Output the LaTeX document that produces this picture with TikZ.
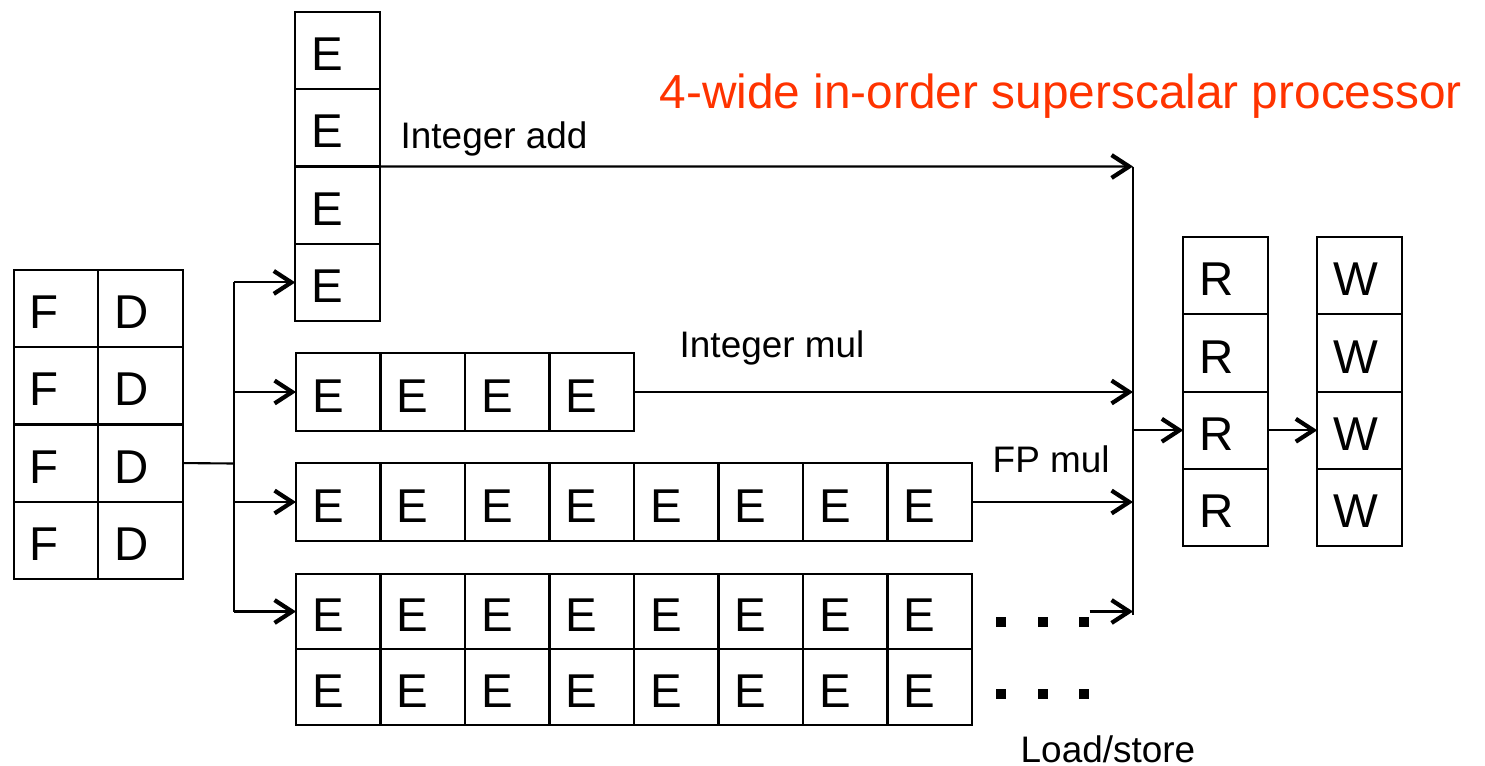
\documentclass[tikz,border=0pt]{standalone}
\usepackage{fontspec}
\setmainfont{Liberation Sans}
\usetikzlibrary{arrows.meta,positioning}
\definecolor{titlered}{RGB}{255,51,0}
\tikzset{
  cell/.style={draw, line width=0.6pt, minimum width=0.845cm, minimum height=0.773cm,
    text width=0.525cm, align=left, inner xsep=0.16cm, inner ysep=0pt, outer sep=0pt,
    text height=0.40cm, text depth=0pt, font=\fontsize{13.5}{14}\selectfont},
  lscell/.style={cell, minimum height=0.755cm},
  lbl/.style={anchor=base west, inner sep=0pt, font=\fontsize{10.5}{12}\selectfont},
  wire/.style={line width=0.6pt},
  arr/.style={wire, -{Straight Barb[length=5pt,width=6.5pt,line width=1.2pt]}},
  blob/.style={fill, minimum size=0.1cm, inner sep=0pt}
}

\begin{document}
\begin{tikzpicture}[y=-1cm]
\useasboundingbox (0,0) rectangle (14.85,7.65);
% Fetch and decode
\foreach \i in {1,...,4} {
  \node[cell] (f\i) at (0.56,2.313+0.7725*\i) {F};
  \node[cell] (d\i) at (1.405,2.313+0.7725*\i) {D};
}
% Integer add
\foreach \i in {1,...,4}
  \node[cell] (add\i) at (3.375,-0.266+0.7725*\i) {E};
% Integer mul
\foreach \i in {1,...,4}
  \node[cell] (mul\i) at (2.5375+0.845*\i,3.92) {E};
% FP mul and load/store
\foreach \i in {1,...,8} {
  \node[cell] (fp\i) at (2.5375+0.845*\i,5.02) {E};
  \node[lscell] (lsa\i) at (2.5375+0.845*\i,6.115) {E};
  \node[lscell] (lsb\i) at (2.5375+0.845*\i,6.87) {E};
}
\foreach \r/\yy in {a/6.22,b/6.94}
  \foreach \j/\xx in {1/10.01,2/10.43,3/10.84}
    \node[blob] (dot\r\j) at (\xx,\yy) {};
% Register read and write back
\foreach \i in {1,...,4} {
  \node[cell] (r\i) at (12.255,1.985+0.7725*\i) {R};
  \node[cell] (w\i) at (13.595,1.985+0.7725*\i) {W};
}
% Issue fan-out
\coordinate (fan) at (2.34,4.635);
\draw[wire] (d3.east) -- (fan);
\draw[wire] (fan |- add4.west) -- (fan |- lsa1.west);
\foreach \t in {add4,mul1,fp1,lsa1}
  \draw[arr] (fan |- \t.west) -- (\t.west);
% Merge into R
\coordinate (mtop) at (11.33,1.665);
\coordinate (mbot) at (11.33,6.15);
\draw[wire] (mtop) -- (mbot);
\draw[arr] (add2.south east) -- (mtop);
\draw[arr] (mul4.east) -- (mtop |- mul4.east);
\draw[arr] (fp8.east) -- (mtop |- fp8.east);
\draw[arr] (dota3.east |- lsa8.east) -- (mtop |- lsa8.east);
\draw[arr] (mtop |- r3.west) -- (r3.west);
\draw[arr] (r3.east) -- (w3.west);
% Labels
\node[lbl] (addlbl) at (4.00,1.48) {Integer add};
\node[lbl] (mullbl) at (6.79,3.57) {Integer mul};
\node[lbl] (fplbl) at (9.92,4.72) {FP mul};
\node[lbl] (lslbl) at (10.20,7.62) {Load/store};
\node[lbl, font=\fontsize{13.6}{16}\selectfont, text=titlered] (title) at (6.59,1.08)
  {4-wide in-order superscalar processor};
\end{tikzpicture}
\end{document}
